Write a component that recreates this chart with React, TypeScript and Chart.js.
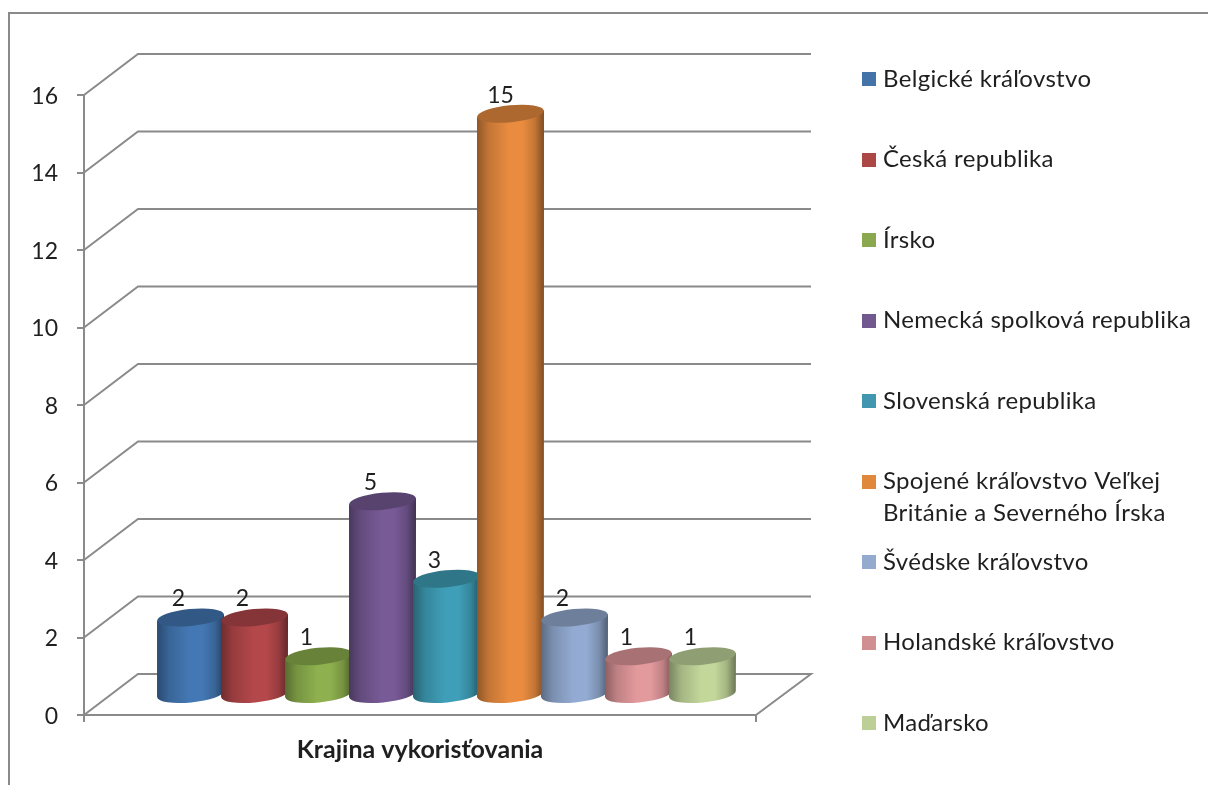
import React, { useEffect, useRef } from "react";
import { Chart, registerables } from "chart.js";

Chart.register(...registerables);

const categories = ["Krajina vykorisťovania"];
const seriesNames = [
  "Belgické kráľovstvo",
  "Česká republika",
  "Írsko",
  "Nemecká spolková republika",
  "Slovenská republika",
  "Spojené kráľovstvo Veľkej Británie a Severného Írska",
  "Švédske kráľovstvo",
  "Holandské kráľovstvo",
  "Maďarsko",
];
const legendLines = [
  ["Belgické kráľovstvo"],
  ["Česká republika"],
  ["Írsko"],
  ["Nemecká spolková republika"],
  ["Slovenská republika"],
  ["Spojené kráľovstvo Veľkej", "Británie a Severného Írska"],
  ["Švédske kráľovstvo"],
  ["Holandské kráľovstvo"],
  ["Maďarsko"],
];
const seriesValues = [2, 2, 1, 5, 3, 15, 2, 1, 1];
const seriesColors = ["#4478b4", "#b4474a", "#8eb04e", "#775a96", "#3f9fb8", "#e98c40", "#93abd2", "#e39a9d", "#c3d79b"];
const legendColors = ["#4473a8", "#ab4744", "#8aa84f", "#71588f", "#4197af", "#e0883c", "#94aace", "#d09092", "#bccf96"];
const yTicks = { min: 0, max: 16, stepSize: 2 };

const FONT = "Lato, sans-serif";
const TEXT = "#1f1f1f";
const LINE = "#8a8a8a";
const DEPTH_X = 54;
const DEPTH_Y = 41;

function shade(hex: string, f: number) {
  const n = parseInt(hex.slice(1), 16);
  const c = [(n >> 16) & 255, (n >> 8) & 255, n & 255].map((v) => Math.round(v * f));
  return `rgb(${c[0]},${c[1]},${c[2]})`;
}

const scene3d = {
  id: "scene3d",
  beforeDatasetsDraw(chart: any) {
    const { ctx, scales } = chart;
    const x = scales.x;
    const y = scales.y;
    ctx.save();

    // outer frame
    ctx.strokeStyle = LINE;
    ctx.lineWidth = 2;
    ctx.beginPath();
    ctx.moveTo(9, 785);
    ctx.lineTo(9, 13);
    ctx.lineTo(1208, 13);
    ctx.stroke();

    // walls and floor
    const L = x.left;
    const R = x.right;
    for (let v = yTicks.min; v <= yTicks.max; v += yTicks.stepSize) {
      const py = y.getPixelForValue(v);
      ctx.beginPath();
      ctx.moveTo(L, py);
      ctx.lineTo(L + DEPTH_X, py - DEPTH_Y);
      ctx.lineTo(R + DEPTH_X + 1, py - DEPTH_Y);
      if (v === yTicks.min) ctx.lineTo(R, py);
      ctx.stroke();
    }

    // cylinders
    chart.data.datasets.forEach((ds: any, i: number) => {
      const bar = chart.getDatasetMeta(i).data[0];
      const cx = bar.x + DEPTH_X / 2 - 0.5;
      const top = bar.y - DEPTH_Y / 2 + 0.5;
      const base = y.getPixelForValue(0) - DEPTH_Y / 2 - 0.5;
      const rx = bar.width / 2 + 1.5;
      const ry = 8.5;
      const rot = (-5.5 * Math.PI) / 180;
      const color = ds.backgroundColor as string;
      const dyEnd = Math.sin(rot) * rx;
      const g = ctx.createLinearGradient(cx - rx, 0, cx + rx, 0);
      g.addColorStop(0, shade(color, 0.62));
      g.addColorStop(0.18, shade(color, 0.84));
      g.addColorStop(0.48, shade(color, 1));
      g.addColorStop(0.68, shade(color, 1));
      g.addColorStop(0.86, shade(color, 0.84));
      g.addColorStop(1, shade(color, 0.55));
      ctx.fillStyle = g;
      ctx.beginPath();
      ctx.moveTo(cx - rx, top - dyEnd);
      ctx.lineTo(cx - rx, base - dyEnd);
      ctx.ellipse(cx, base, rx, ry, rot, Math.PI, 0, true);
      ctx.lineTo(cx + rx, top + dyEnd);
      ctx.closePath();
      ctx.fill();
      ctx.fillStyle = shade(color, 0.74);
      ctx.beginPath();
      ctx.ellipse(cx, top, rx, ry, rot, 0, Math.PI * 2);
      ctx.fill();
    });

    // value labels
    ctx.fillStyle = TEXT;
    ctx.font = `23px ${FONT}`;
    ctx.textAlign = "center";
    ctx.textBaseline = "middle";
    chart.data.datasets.forEach((ds: any, i: number) => {
      const bar = chart.getDatasetMeta(i).data[0];
      const lift = ds.data[0] >= 10 ? -10.5 : -12.5;
      ctx.fillText(String(ds.data[0]), bar.x + DEPTH_X / 2 + lift, bar.y - DEPTH_Y / 2 - 18);
    });

    // legend
    const slot = 80.5;
    const first = 79;
    ctx.textAlign = "left";
    ctx.font = `24px ${FONT}`;
    (ctx as any).letterSpacing = "0.33px";
    legendLines.forEach((lines, i) => {
      const cy = first + i * slot;
      ctx.fillStyle = legendColors[i];
      ctx.fillRect(862, Math.round(cy - 7), 14, 14);
      ctx.fillStyle = TEXT;
      lines.forEach((t, k) => ctx.fillText(t, 883, cy + k * 32));
    });
    (ctx as any).letterSpacing = "0px";

    ctx.restore();
    return false;
  },
};

export default function App() {
  const ref = useRef<HTMLCanvasElement>(null);
  useEffect(() => {
    const chart = new Chart(ref.current!, {
      type: "bar",
      data: {
        labels: categories,
        datasets: seriesNames.map((label, i) => ({
          label,
          data: [seriesValues[i]],
          backgroundColor: seriesColors[i],
          categoryPercentage: 0.857,
          barPercentage: 1,
        })),
      },
      options: {
        animation: false,
        responsive: false,
        devicePixelRatio: 1,
        layout: { padding: { left: 0, right: 452, top: 95, bottom: 0 } },
        plugins: { legend: { display: false }, title: { display: false }, tooltip: { enabled: false } },
        scales: {
          x: {
            grid: { drawOnChartArea: false, drawTicks: true, tickLength: 7, color: LINE, lineWidth: 2 },
            border: { color: LINE, width: 2 },
            ticks: { color: TEXT, padding: 13, font: { family: FONT, size: 25, weight: "bold" } },
            afterFit: (s: any) => { s.height = 70; },
          },
          y: {
            min: yTicks.min,
            max: yTicks.max,
            grid: { drawOnChartArea: false, drawTicks: true, tickLength: 7, color: LINE, lineWidth: 2 },
            border: { color: LINE, width: 2 },
            ticks: { stepSize: yTicks.stepSize, color: TEXT, padding: 19, labelOffset: 1.5, font: { family: FONT, size: 23 } },
            afterFit: (s: any) => { s.width = 84; },
          },
        },
      },
      plugins: [scene3d],
    } as any);
    return () => chart.destroy();
  }, []);
  return (
    <div style={{ position: "absolute", left: 0, top: 0, width: 1208, height: 785, background: "#fff" }}>
      <canvas ref={ref} width={1208} height={785} style={{ display: "block" }} />
    </div>
  );
}
